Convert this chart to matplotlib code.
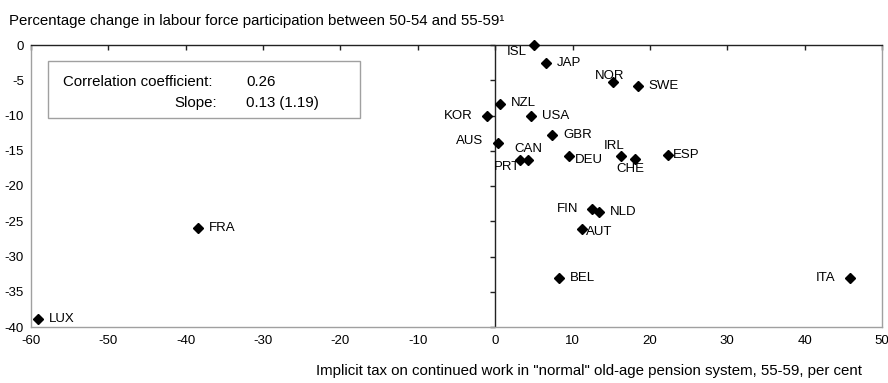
import matplotlib
matplotlib.use("Agg")
import matplotlib.pyplot as plt
from matplotlib.lines import TICKDOWN, TICKLEFT
from matplotlib.patches import Rectangle

# ── Data ──────────────────────────────────────────────────────────────────────
COUNTRIES = ["ISL", "JAP", "NOR", "SWE", "NZL", "KOR", "USA", "GBR", "AUS",
             "CAN", "PRT", "DEU", "IRL", "CHE", "ESP", "FIN", "NLD", "AUT",
             "BEL", "ITA", "FRA", "LUX"]
IMPLICIT_TAX = [5.0, 6.6, 15.2, 18.4, 0.6, -1.0, 4.65, 7.4, 0.3,
                4.2, 3.2, 9.6, 16.2, 18.1, 22.4, 12.5, 13.4, 11.2,
                8.2, 45.9, -38.4, -59.1]
PART_CHANGE = [0.0, -2.55, -5.2, -5.8, -8.4, -10.1, -10.1, -12.7, -13.9,
               -16.3, -16.3, -15.7, -15.7, -16.2, -15.6, -23.3, -23.7, -26.1,
               -33.1, -33.1, -25.9, -38.9]

X_TICKS = list(range(-60, 51, 10))
Y_TICKS = list(range(-40, 1, 5))

# label placement: (dx px, dy px, ha) relative to marker, dy positive = down
LABEL_POS = {
    "ISL": (-17, 7, "center"), "JAP": (11, 0, "left"), "NOR": (-3, -6, "center"),
    "SWE": (11, 0, "left"), "NZL": (11, -1, "left"), "KOR": (-15, 0, "right"),
    "USA": (11, 0, "left"), "GBR": (11, 0, "left"), "AUS": (-14, -2, "right"),
    "CAN": (1, -11, "center"), "PRT": (-13, 7, "center"), "DEU": (5, 4, "left"),
    "IRL": (-6, -10, "center"), "CHE": (-5, 10, "center"), "ESP": (4, 0, "left"),
    "FIN": (-14, 0, "right"), "NLD": (11, 0, "left"), "AUT": (4, 3, "left"),
    "BEL": (11, 0, "left"), "ITA": (-15, 0, "right"), "FRA": (11, 0, "left"),
    "LUX": (11, 0, "left"),
}

GREY = "#a0a0a0"
DARK = "#222222"
W, H = 888, 383

plt.rcParams.update({
    "font.family": ["Liberation Sans", "DejaVu Sans"],
    "font.size": 9.5,
    "axes.unicode_minus": False,
})

fig = plt.figure(figsize=(W / 100, H / 100), dpi=100)
ax = fig.add_axes([31 / W, 1 - 327 / H, 851 / W, 282 / H])

ax.set_xlim(-60, 50)
ax.set_ylim(-40, 0)
ax.set_xticks(X_TICKS)
ax.set_yticks(Y_TICKS)
ax.tick_params(length=0, labelsize=9.5, colors="black")
ax.tick_params(axis="y", pad=5)
ax.tick_params(axis="x", pad=6)

for side in ("left", "bottom", "right"):
    ax.spines[side].set_color(GREY)
    ax.spines[side].set_linewidth(1.0)
ax.spines["top"].set_color(DARK)
ax.spines["top"].set_linewidth(1.0)

# zero axes with their own tick marks
ax.axvline(0, color=DARK, lw=1.0, zorder=2)
ax.plot(X_TICKS, [0] * len(X_TICKS), ls="none", marker=TICKDOWN,
        ms=3.5, mew=1.0, color=DARK, clip_on=False, zorder=2)
ax.plot([0] * len(Y_TICKS), Y_TICKS, ls="none", marker=TICKLEFT,
        ms=3.5, mew=1.0, color=DARK, clip_on=False, zorder=2)

ax.plot(IMPLICIT_TAX, PART_CHANGE, ls="none", marker="D", ms=5.2,
        color="black", clip_on=False, zorder=4)

for name, x, y in zip(COUNTRIES, IMPLICIT_TAX, PART_CHANGE):
    dx, dy, ha = LABEL_POS[name]
    ax.annotate(name, (x, y), xytext=(dx * 0.72, -dy * 0.72),
                textcoords="offset points", ha=ha, va="center",
                fontsize=9.5, zorder=5)

# statistics box
fig.add_artist(Rectangle((48 / W, 1 - 118 / H), 312 / W, 57 / H,
                         transform=fig.transFigure, fill=True,
                         facecolor="white", edgecolor=GREY, lw=1.0, zorder=6))
fig.text(63 / W, 1 - 82 / H, "Correlation coefficient:", ha="left",
         va="center", fontsize=10.8, zorder=7)
fig.text(246 / W, 1 - 82 / H, "0.26", ha="left", va="center",
         fontsize=10.8, zorder=7)
fig.text(217 / W, 1 - 103 / H, "Slope:", ha="right", va="center",
         fontsize=10.8, zorder=7)
fig.text(246 / W, 1 - 103 / H, "0.13 (1.19)", ha="left", va="center",
         fontsize=10.8, zorder=7)

fig.text(9 / W, 1 - 21 / H,
         "Percentage change in labour force participation between 50-54 and 55-59\u00b9",
         ha="left", va="center", fontsize=10.8)
fig.text(862 / W, 1 - 371 / H,
         'Implicit tax on continued work in "normal" old-age pension system, 55-59, per cent',
         ha="right", va="center", fontsize=10.8)

fig.savefig("out.png", dpi=100)
